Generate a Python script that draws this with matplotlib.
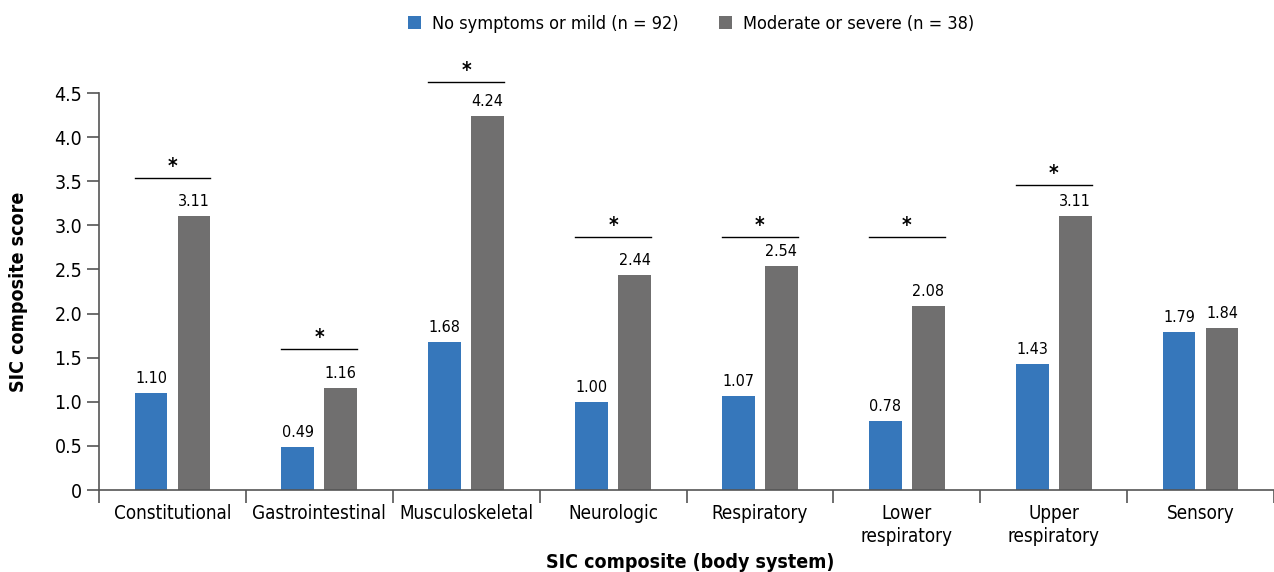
import matplotlib
matplotlib.use("Agg")
import matplotlib.pyplot as plt
import numpy as np

plt.rcParams['font.family'] = ['DejaVu Sans']
plt.rcParams['font.stretch'] = 'condensed'

categories = ["Constitutional", "Gastrointestinal", "Musculoskeletal", "Neurologic",
              "Respiratory", "Lower\nrespiratory", "Upper\nrespiratory", "Sensory"]
mild = [1.10, 0.49, 1.68, 1.00, 1.07, 0.78, 1.43, 1.79]
severe = [3.11, 1.16, 4.24, 2.44, 2.54, 2.08, 3.11, 1.84]
# height of significance bar (None = not significant)
sig_level = [3.54, 1.60, 4.63, 2.87, 2.87, 2.87, 3.46, None]
legend_labels = ["No symptoms or mild (n = 92)", "Moderate or severe (n = 38)"]

blue = "#3677bb"
gray = "#706f6f"
axis_col = "#555555"

fig = plt.figure(figsize=(12.74, 5.72), dpi=100)
ax = fig.add_axes([99/1274, 1-490/572, 1-99/1274, (490-93)/572])

x = np.arange(len(categories))
w = 0.223
off = 0.146
b1 = ax.bar(x - off, mild, w, color=blue, label=legend_labels[0])
b2 = ax.bar(x + off, severe, w, color=gray, label=legend_labels[1])

for xi, v in zip(x, mild):
    ax.text(xi - off, v + 0.08, "%.2f" % v, ha='center', va='bottom', fontsize=11.5)
for xi, v in zip(x, severe):
    ax.text(xi + off, v + 0.08, "%.2f" % v, ha='center', va='bottom', fontsize=11.5)

# significance markers
for xi, s in zip(x, sig_level):
    if s is None:
        continue
    ax.plot([xi - off - w/2, xi + off + w/2], [s, s], color='black', lw=1, clip_on=False)
    ax.text(xi, s + 0.01, "*", ha='center', va='bottom', fontsize=15,
            fontweight='bold', clip_on=False)

ax.set_xlim(-0.5, 7.455)
ax.set_ylim(0, 4.5)
ax.set_yticks(np.arange(0, 4.51, 0.5))
ax.set_yticklabels(["0"] + ["%.1f" % t for t in np.arange(0.5, 4.51, 0.5)], fontsize=14)
ax.set_xticks(x)
ax.set_xticklabels(categories, fontsize=13.5, linespacing=1.3)
ax.set_xticks(np.arange(-0.5, 8, 1), minor=True)
ax.tick_params(axis='x', which='major', length=0, pad=10)
ax.tick_params(axis='x', which='minor', length=9, width=1.2, color=axis_col, direction='out')
ax.tick_params(axis='y', length=9, width=1.2, color=axis_col, direction='out', pad=3)

for sp in ['top', 'right']:
    ax.spines[sp].set_visible(False)
for sp in ['left', 'bottom']:
    ax.spines[sp].set_color(axis_col)
    ax.spines[sp].set_linewidth(1.2)

ax.set_ylabel("SIC composite score", fontsize=14, fontweight='bold', labelpad=19)
fig.text(690/1274, 1-563/572, "SIC composite (body system)", ha='center', va='center',
         fontsize=14, fontweight='bold')

fig.legend(handles=[b1, b2], loc='center', bbox_to_anchor=(691/1274, 1-24/572), ncol=2,
           frameon=False, fontsize=13, handlelength=0.75, handleheight=0.75,
           columnspacing=2.2, handletextpad=0.6)

fig.savefig("out.png", dpi=100)
